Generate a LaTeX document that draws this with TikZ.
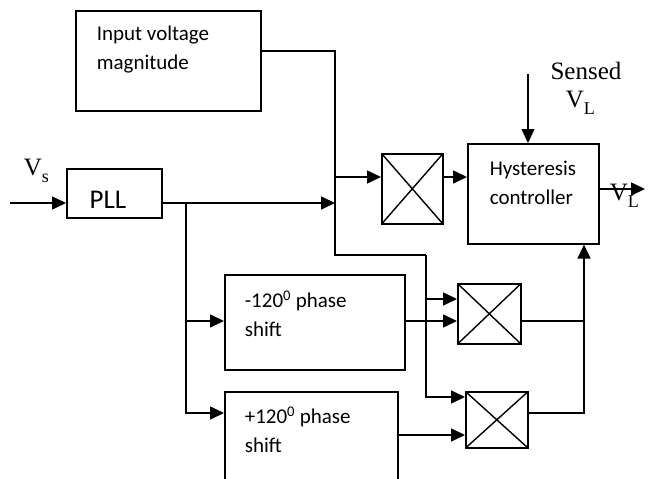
\documentclass[tikz,border=0pt]{standalone}
\usepackage{fontspec}
\setmainfont{Carlito}
\newfontfamily\timesf{Liberation Serif}
\usetikzlibrary{arrows.meta}
\newcommand\mysubscr[1]{\raisebox{-0.3em}{\fontsize{18}{18}\selectfont #1}}
\begin{document}
\begin{tikzpicture}[x=1pt,y=-1pt,line width=1.6pt,
  box/.style={draw,rectangle,inner sep=0pt,anchor=north west},
  mult/.style={draw,rectangle,inner sep=0pt,anchor=north west,
    path picture={\draw[line width=1.4pt] (path picture bounding box.north west) -- (path picture bounding box.south east)
      (path picture bounding box.south west) -- (path picture bounding box.north east);}},
  arr/.style={-{Triangle[length=14pt,width=13pt]}},
  lbl/.style={font=\fontsize{21}{29}\selectfont,align=left,inner sep=0pt},
  tlbl/.style={font=\timesf\fontsize{25}{28}\selectfont,inner sep=0pt}]
\clip (0,0) rectangle (649,479);
% boxes
\node[box,minimum width=185pt,minimum height=100pt] (vin) at (75,10) {};
\node[box,minimum width=95pt,minimum height=49pt] (pll) at (66,168) {};
\node[mult,minimum width=61pt,minimum height=70pt] (m1) at (381,153) {};
\node[box,minimum width=131pt,minimum height=100pt] (hc) at (467,143) {};
\node[box,minimum width=180pt,minimum height=95pt] (ps1) at (224,274) {};
\node[box,minimum width=173pt,minimum height=110pt] (ps2) at (224,391) {};
\node[mult,minimum width=63pt,minimum height=60pt] (m2) at (457,283) {};
\node[mult,minimum width=62pt,minimum height=56pt] (m3) at (465,391) {};
% texts
\node[lbl,anchor=west] (tvin) at (96,50) {Input voltage\\magnitude};
\node[font=\fontsize{27}{30}\selectfont,inner sep=0pt] (tpll) at (108,200) {PLL};
\node[lbl,anchor=west] (thc) at (489,183) {Hysteresis\\controller};
\node[lbl,anchor=west] (tps1) at (244,314) {-120\textsuperscript{0} phase\\shift};
\node[lbl,anchor=west] (tps2) at (244,430) {+120\textsuperscript{0} phase\\shift};
\node[tlbl,anchor=base west] (tvs) at (23,175) {V\mysubscr{s}};
\node[tlbl,anchor=base] (tsense) at (586,79) {Sensed};
\node[tlbl,anchor=base west] (tsvl) at (565,107) {V\mysubscr{L}};
% coordinates
\coordinate (vsin) at (10,203);
\coordinate (jA) at (335,203);
\coordinate (v1) at (335,51);
\coordinate (v2) at (335,255);
\coordinate (v3) at (426,255);
\coordinate (v4) at (426,397);
\coordinate (b1) at (335,177);
\coordinate (b2) at (186,203);
\coordinate (b3) at (186,321);
\coordinate (b4) at (186,413);
\coordinate (b5) at (426,299);
\coordinate (b6) at (400,435);
\coordinate (c1) at (584,413);
\coordinate (c2) at (584,321);
\coordinate (s0) at (528,74);
\coordinate (ho) at (598,189);
\coordinate (vout) at (645,189);
% connectors
\draw[arr] (vsin) -- (vsin -| pll.west);
\draw[arr] (pll.east |- vsin) -- (jA);
\draw (vin.east |- v1) -- (v1) -- (v2) -- (v3);
\draw[arr] (v3) |- (m3.west |- v4);
\draw[arr] (b5) -- (m2.west |- b5);
\draw[arr] (b1) -- (m1.west |- b1);
\draw[arr] (m1.east |- b1) -- (hc.west |- b1);
\draw[arr] (s0) -- (s0 |- hc.north);
\draw[arr] (hc.east |- ho) -- (vout);
\draw[arr] (b2) |- (ps2.west |- b4);
\draw[arr] (b3) -- (ps1.west |- b3);
\draw[arr] (ps1.east |- b3) -- (m2.west |- b3);
\draw[arr] (ps2.east |- b6) -- (m3.west |- b6);
\draw (m2.east |- c2) -- (c2);
\draw[arr] (m3.east |- c1) -| (c1 |- hc.south);
\node[tlbl,anchor=base west] (tvl) at (609,200) {V\mysubscr{L}};
\end{tikzpicture}
\end{document}
